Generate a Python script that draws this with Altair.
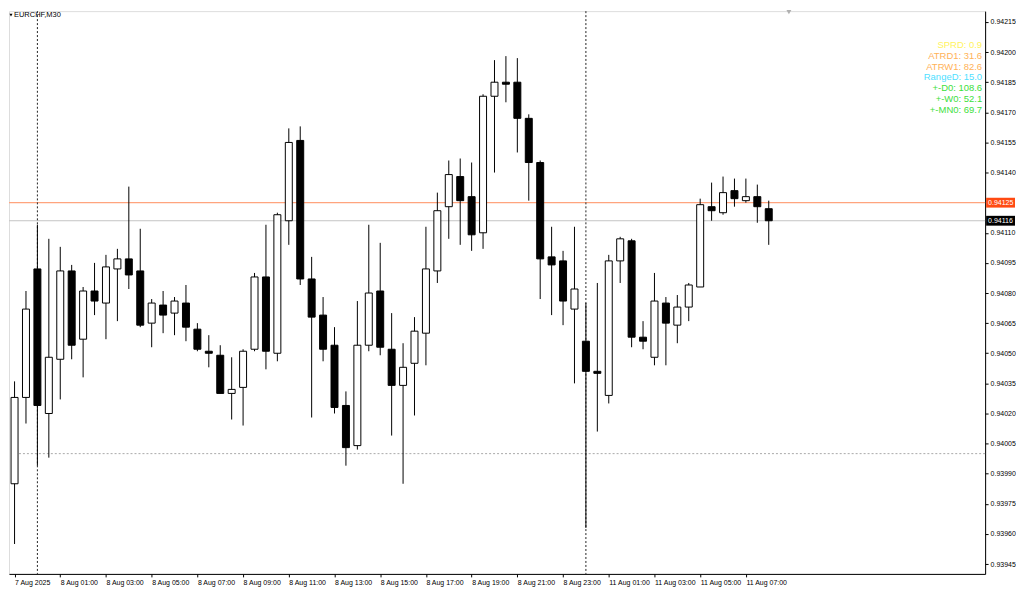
import json
import altair as alt
import pandas as pd

chart_title = "EURCHF,M30"

# candle index (0 = 8 Aug 00:00, one step = 30 minutes, weekend skipped)
bar_index = list(range(-2, 65))
opens = [0.93985, 0.94028, 0.94092, 0.94020, 0.94047, 0.94091, 0.94057, 0.94081, 0.94075, 0.94092,
         0.94097, 0.94091, 0.94065, 0.94074, 0.94070, 0.94075, 0.94062, 0.94051, 0.94049, 0.94030,
         0.94033, 0.94052, 0.94088, 0.94050, 0.94116, 0.94156, 0.94087, 0.94069, 0.94054, 0.94024,
         0.94004, 0.94054, 0.94081, 0.94052, 0.94034, 0.94045, 0.94060, 0.94091, 0.94123, 0.94138,
         0.94128, 0.94110, 0.94178, 0.94185, 0.94185, 0.94167, 0.94145, 0.94098, 0.94096, 0.94072,
         0.94056, 0.94041, 0.94029, 0.94096, 0.94106, 0.94058, 0.94048, 0.94075, 0.94064, 0.94073,
         0.94083, 0.94123, 0.94120, 0.94131, 0.94126, 0.94128, 0.94122]
highs = [0.94036, 0.94081, 0.94114, 0.94107, 0.94103, 0.94094, 0.94083, 0.94095, 0.94099, 0.94102,
         0.94133, 0.94112, 0.94077, 0.94081, 0.94078, 0.94084, 0.94065, 0.94059, 0.94054, 0.94048,
         0.94052, 0.94090, 0.94114, 0.94120, 0.94162, 0.94163, 0.94098, 0.94078, 0.94063, 0.94031,
         0.94076, 0.94114, 0.94105, 0.94070, 0.94055, 0.94068, 0.94113, 0.94130, 0.94146, 0.94147,
         0.94145, 0.94179, 0.94196, 0.94198, 0.94197, 0.94169, 0.94146, 0.94113, 0.94101, 0.94113,
         0.94075, 0.94085, 0.94099, 0.94108, 0.94107, 0.94066, 0.94090, 0.94078, 0.94079, 0.94085,
         0.94127, 0.94135, 0.94138, 0.94137, 0.94137, 0.94134, 0.94126]
lows = [0.93955, 0.94015, 0.93994, 0.93998, 0.94027, 0.94047, 0.94038, 0.94069, 0.94057, 0.94066,
        0.94082, 0.94063, 0.94053, 0.94060, 0.94059, 0.94056, 0.94051, 0.94043, 0.94030, 0.94017,
        0.94014, 0.94051, 0.94042, 0.94046, 0.94104, 0.94084, 0.94018, 0.94046, 0.94020, 0.93994,
        0.94002, 0.94051, 0.94049, 0.94009, 0.93985, 0.94019, 0.94044, 0.94085, 0.94107, 0.94104,
        0.94101, 0.94102, 0.94140, 0.94175, 0.94150, 0.94126, 0.94077, 0.94069, 0.94064, 0.94035,
        0.93963, 0.94011, 0.94025, 0.94085, 0.94053, 0.94052, 0.94044, 0.94044, 0.94055, 0.94066,
        0.94083, 0.94116, 0.94119, 0.94123, 0.94125, 0.94115, 0.94104]
closes = [0.94028, 0.94072, 0.94024, 0.94048, 0.94091, 0.94054, 0.94081, 0.94076, 0.94093, 0.94097,
          0.94089, 0.94064, 0.94075, 0.94069, 0.94076, 0.94063, 0.94052, 0.94050, 0.94030, 0.94032,
          0.94051, 0.94088, 0.94051, 0.94119, 0.94155, 0.94087, 0.94068, 0.94052, 0.94023, 0.94003,
          0.94054, 0.94080, 0.94053, 0.94034, 0.94043, 0.94061, 0.94092, 0.94121, 0.94139, 0.94126,
          0.94109, 0.94178, 0.94185, 0.94184, 0.94167, 0.94145, 0.94097, 0.94094, 0.94076, 0.94082,
          0.94041, 0.94040, 0.94096, 0.94107, 0.94058, 0.94056, 0.94076, 0.94065, 0.94073, 0.94084,
          0.94124, 0.94121, 0.94130, 0.94127, 0.94128, 0.94123, 0.94116]

x_tick_index = list(range(-2, 63, 4))
x_tick_labels = ["7 Aug 2025", "8 Aug 01:00", "8 Aug 03:00", "8 Aug 05:00", "8 Aug 07:00",
                 "8 Aug 09:00", "8 Aug 11:00", "8 Aug 13:00", "8 Aug 15:00", "8 Aug 17:00",
                 "8 Aug 19:00", "8 Aug 21:00", "8 Aug 23:00", "11 Aug 01:00", "11 Aug 03:00",
                 "11 Aug 05:00", "11 Aug 07:00"]
# 0.94125 is shown by the orange price tag instead of a plain axis label
y_tick_values = [0.93945, 0.93960, 0.93975, 0.93990, 0.94005, 0.94020, 0.94035, 0.94050,
                 0.94065, 0.94080, 0.94095, 0.94110, 0.94140, 0.94155, 0.94170,
                 0.94185, 0.94200, 0.94215]

separator_index = [0, 48]
orange_level = [0.94125]
bid_level = [0.94116]
round_level = [0.94000]

info_labels = ["SPRD: 0.9", "ATRD1: 31.6", "ATRW1: 82.6", "RangeD: 15.0",
               "+-D0: 108.6", "+-W0: 52.1", "+-MN0: 69.7"]
info_colors = ["#FFF35C", "#FFB257", "#FFB257", "#4FE0FF", "#3CE03C", "#3CE03C", "#3CE03C"]

W, H = 980, 565
FONT = "Liberation Sans"

xs = alt.Scale(domain=[-2.05, 82.5], nice=False, zero=False)
ys = alt.Scale(domain=[0.939401, 0.942204], nice=False, zero=False)

x_axis = alt.Axis(values=x_tick_index,
                  labelExpr=json.dumps(x_tick_labels) + "[round((datum.value + 2) / 4)]",
                  orient="bottom", labelAlign="left", labelFontSize=7, labelColor="#000000",
                  labelFont=FONT, tickSize=3, tickColor="#000000", domainColor="#000000",
                  labelPadding=2, grid=False, labelOverlap=False, labelFlush=False, title=None)
y_axis = alt.Axis(values=y_tick_values, format=".5f", orient="right", labelFontSize=7,
                  labelColor="#000000", labelFont=FONT, tickSize=3, tickColor="#000000",
                  domainColor="#000000", labelPadding=2, grid=False, labelOverlap=False,
                  labelFlush=False, title=None)


def X(f):
    return alt.X(f"{f}:Q", scale=xs, axis=x_axis, title=None)


def Y(f):
    return alt.Y(f"{f}:Q", scale=ys, axis=y_axis, title=None)


df = pd.DataFrame({"idx": bar_index, "open": opens, "high": highs, "low": lows, "close": closes})
base = alt.Chart(df)

wicks = base.mark_rule(color="#000000", strokeWidth=1, clip=True).encode(
    x=X("idx"), y=Y("low"), y2=alt.Y2("high"))

bodies = base.transform_calculate(
    dir="datum.close > datum.open ? 'up' : 'down'"
).mark_bar(size=7, stroke="#000000", strokeWidth=1, clip=True).encode(
    x=X("idx"), y=Y("open"), y2=alt.Y2("close"),
    color=alt.Color("dir:N", scale=alt.Scale(domain=["up", "down"], range=["#ffffff", "#000000"]),
                    legend=None))

bid_rule = alt.Chart(pd.DataFrame({"p": bid_level})).mark_rule(
    color="#C4C4C4", strokeWidth=1).encode(y=Y("p"))
round_rule = alt.Chart(pd.DataFrame({"p": round_level})).mark_rule(
    color="#A8A8A8", strokeWidth=1, strokeDash=[2, 2]).encode(y=Y("p"))
orange_rule = alt.Chart(pd.DataFrame({"p": orange_level})).mark_rule(
    color="#FFA47E", strokeWidth=1.2).encode(y=Y("p"))
separators = alt.Chart(pd.DataFrame({"i": separator_index})).mark_rule(
    color="#222222", strokeWidth=1, strokeDash=[2, 2]).encode(x=X("i"))


def price_tag(levels, fill):
    d = alt.Chart(pd.DataFrame({"p": levels})).transform_calculate(
        top="datum.p + 0.0000245", bot="datum.p - 0.0000245")
    rect = d.mark_rect(color=fill).encode(
        x=alt.value(W + 1), x2=alt.value(W + 30), y=Y("top"), y2=alt.Y2("bot"))
    txt = d.mark_text(align="left", baseline="middle", color="#ffffff", fontSize=7,
                      font=FONT).encode(
        x=alt.value(W + 3), y=Y("p"), text=alt.Text("p:Q", format=".5f"))
    return rect + txt


tag_orange = price_tag(orange_level, "#FF4A12")
tag_bid = price_tag(bid_level, "#000000")

info_layers = []
for k, (lab, col) in enumerate(zip(info_labels, info_colors)):
    info_layers.append(
        alt.Chart(pd.DataFrame({"label": [lab]})).mark_text(
            align="right", baseline="middle", fontSize=9.5, font=FONT, color=col
        ).encode(x=alt.value(W - 3), y=alt.value(34 + 10.8 * k), text="label:N"))

tdf = alt.Chart(pd.DataFrame({"t": [chart_title]}))
title_text = tdf.mark_text(align="left", baseline="middle", fontSize=7.5, font=FONT,
                           color="#000000").encode(x=alt.value(5), y=alt.value(4), text="t:N")
title_tri = tdf.mark_point(shape="triangle-down", filled=True, size=9, color="#000000",
                           opacity=1).encode(x=alt.value(2), y=alt.value(4))
shift_tri = tdf.mark_point(shape="triangle-down", filled=True, size=25, color="#B0B0B0",
                           opacity=1).encode(x=alt.value(783), y=alt.value(1))

chart = alt.layer(
    bid_rule, round_rule, orange_rule, separators, wicks, bodies,
    tag_orange, tag_bid, *info_layers, title_text, title_tri, shift_tri
).properties(
    width=W, height=H, padding={"left": 0, "top": 0, "right": 0, "bottom": 0},
    background="#ffffff"
).configure_view(
    stroke="#000000", strokeWidth=1
).configure(font=FONT)

chart.save("out.html", embed_options={"renderer": "svg", "actions": False})
